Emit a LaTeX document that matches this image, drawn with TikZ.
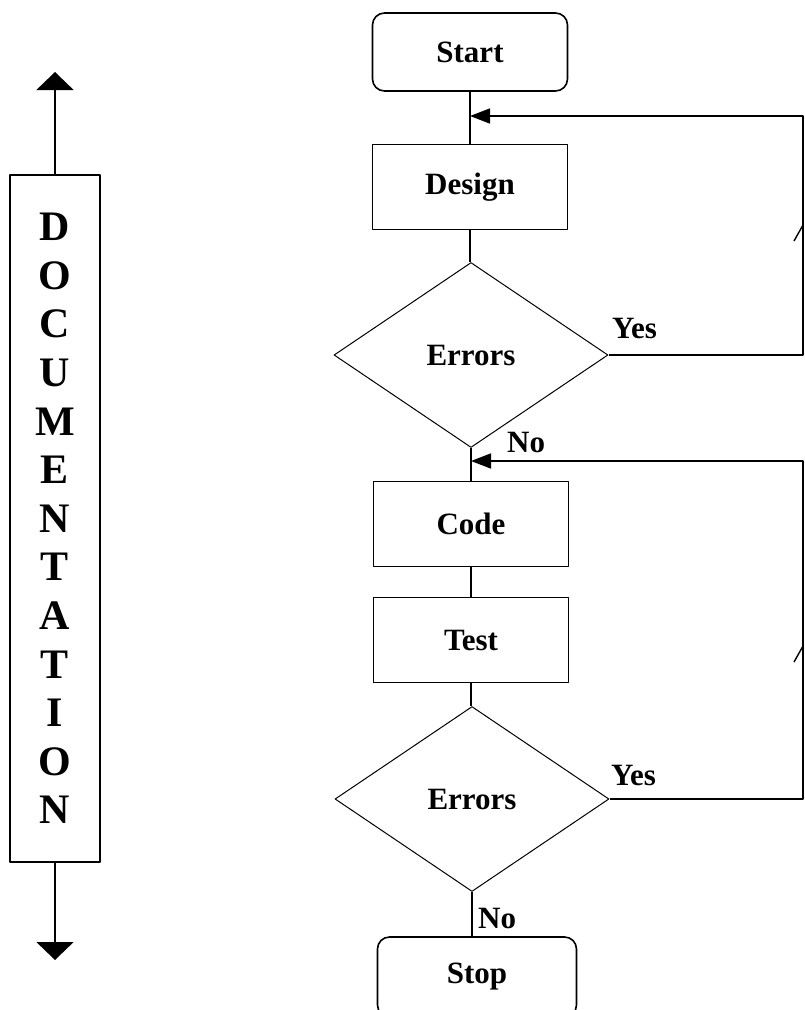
\documentclass[tikz,border=0pt]{standalone}
\usepackage{fontspec}
\setmainfont{Liberation Serif}
\usetikzlibrary{shapes.geometric,arrows.meta}
\tikzset{
  box/.style={draw, line width=1.6pt, inner sep=0pt, minimum width=195pt, minimum height=85pt},
  term/.style={box, rounded corners=12pt, minimum height=78pt},
  decide/.style={draw, diamond, line width=1pt, inner sep=0pt, minimum width=274pt, minimum height=185pt},
  lbl/.style={inner sep=0pt, anchor=base west},
}
\begin{document}
\begin{tikzpicture}[x=1pt, y=-1pt, >={Triangle[length=20pt,width=15pt]}, font=\fontsize{31}{31}\selectfont\bfseries, line join=round]
\useasboundingbox (0,0) rectangle (804,1010);
% flow column
\node[term] (start) at (470,52) {Start};
\node[box] (design) at (470,187) {Design};
\node[decide] (err1) at (471,355) {Errors};
\node[box] (code) at (471,524) {Code};
\node[box] (test) at (471,640) {Test};
\node[decide] (err2) at (472,799) {Errors};
\node[term, minimum width=199pt, minimum height=80pt] (stop) at (477,977) {Stop};
\coordinate (j1) at (470,116);
\coordinate (j2) at (471,461);
\coordinate (c1) at (803,116);
\coordinate (c2) at (803,461);
\begin{scope}[line width=1.6pt]
\draw (start) -- (design);
\draw (design.south) -- (design.south |- err1.north);
\draw (err1) -- (code);
\draw (code) -- (test);
\draw (test.south) -- (test.south |- err2.north);
\draw (err2.south) -- (err2.south |- stop.north);
\draw[->] (err1.east) -- (err1.east -| c1) -- (c1) -- (j1);
\draw[->] (err2.east) -- (err2.east -| c2) -- (c2) -- (j2);
\end{scope}
\draw[line width=1.4pt] (794,241) -- (803,225);
\draw[line width=1.4pt] (794,662) -- (803,646);
\node[lbl] (yes1) at (612,338) {Yes};
\node[lbl] (no1) at (507,452) {No};
\node[lbl] (yes2) at (611,785) {Yes};
\node[lbl] (no2) at (478,928) {No};
% documentation bar
\node[draw, line width=1.6pt, minimum width=90pt, minimum height=687pt, inner sep=0pt, align=center,
  font=\fontsize{42}{48.6}\selectfont\bfseries] (doc) at (55,518.5)
  {D\\O\\C\\U\\M\\E\\N\\T\\A\\T\\I\\O\\N};
\coordinate (dtop) at (55,72);
\coordinate (dbot) at (55,960);
\draw[line width=1.6pt, -{Triangle[length=18pt,width=37pt]}] (doc) -- (dtop);
\draw[line width=1.6pt, -{Triangle[length=18pt,width=37pt]}] (doc) -- (dbot);
\end{tikzpicture}
\end{document}
